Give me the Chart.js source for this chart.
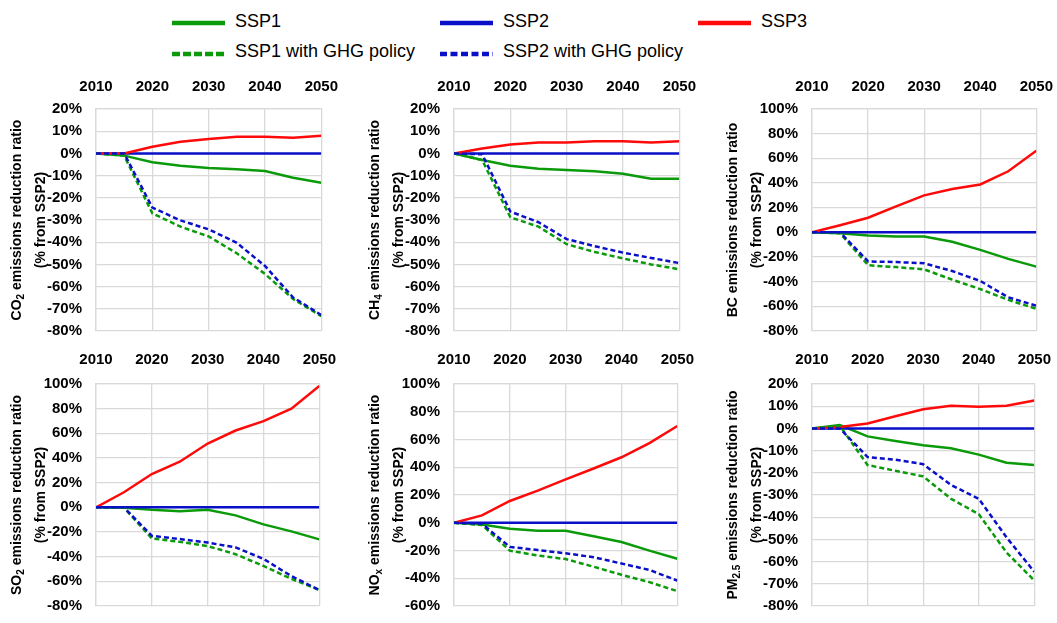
<!DOCTYPE html>
<html><head><meta charset="utf-8">
<script src="https://cdn.jsdelivr.net/npm/chart.js@4.4.1/dist/chart.umd.min.js"></script>
<style>
html,body{margin:0;padding:0;background:#fff;overflow:hidden;width:1057px;height:623px;position:relative;}
canvas{position:absolute;}
.lgt{position:absolute;font-family:"Liberation Sans",Arial,sans-serif;font-size:18px;line-height:18px;color:#000;white-space:nowrap;}
svg.lgs{position:absolute;overflow:visible;}
</style></head><body>
<script>
// ---------------- data ----------------
const years = [2010, 2015, 2020, 2025, 2030, 2035, 2040, 2045, 2050];
const seriesNames = ["SSP1", "SSP2", "SSP3", "SSP1 with GHG policy", "SSP2 with GHG policy"];

const co2_ssp1    = [0, -1, -4, -5.6, -6.6, -7.1, -7.9, -11, -13.2];
const co2_ssp2    = [0, 0, 0, 0, 0, 0, 0, 0, 0];
const co2_ssp3    = [0, 0, 3, 5.2, 6.5, 7.5, 7.5, 7.1, 7.9];
const co2_ssp1ghg = [0, -1, -27, -33, -37.4, -45, -54.3, -65.6, -73.3];
const co2_ssp2ghg = [0, 0, -24.4, -30.2, -34.2, -40.3, -50.7, -64.9, -72.8];

const ch4_ssp1    = [0, -3, -5.6, -6.9, -7.5, -8, -9.2, -11.4, -11.4];
const ch4_ssp2    = [0, 0, 0, 0, 0, 0, 0, 0, 0];
const ch4_ssp3    = [0, 2.2, 4, 4.9, 4.9, 5.5, 5.5, 4.9, 5.5];
const ch4_ssp1ghg = [0, -3, -28.8, -33, -40.9, -44.4, -47.3, -50, -52.2];
const ch4_ssp2ghg = [0, -0.4, -26.2, -31, -38.6, -41.8, -44.7, -47.1, -49.4];

const bc_ssp1    = [0, -0.7, -2.5, -3.3, -3.3, -7.7, -14.2, -21.5, -27.8];
const bc_ssp2    = [0, 0, 0, 0, 0, 0, 0, 0, 0];
const bc_ssp3    = [0, 5.8, 11.8, 21, 30, 35.2, 38.8, 49.5, 66.2];
const bc_ssp1ghg = [0, -0.7, -26.7, -28.2, -30, -38.4, -46, -54.8, -62];
const bc_ssp2ghg = [0, 0, -23.6, -24.1, -25.1, -31.4, -39.4, -52.7, -59.5];

const so2_ssp1    = [0, -0.3, -2, -3.1, -2, -6.5, -13.8, -19.5, -26];
const so2_ssp2    = [0, 0, 0, 0, 0, 0, 0, 0, 0];
const so2_ssp3    = [0, 12.2, 27, 37, 51.7, 62.3, 69.9, 80, 98.4];
const so2_ssp1ghg = [0, -0.3, -25.2, -28, -31.4, -38, -47.5, -58, -67];
const so2_ssp2ghg = [0, 0, -23.1, -25.7, -28.6, -32.5, -41.8, -55.8, -67];

const nox_ssp1    = [0, -1.2, -4.4, -5.8, -5.8, -9.7, -13.9, -20.1, -25.9];
const nox_ssp2    = [0, 0, 0, 0, 0, 0, 0, 0, 0];
const nox_ssp3    = [0, 5.3, 15.7, 23.1, 31.2, 39.1, 47.2, 57.4, 69.7];
const nox_ssp1ghg = [0, -1.6, -20.1, -23.6, -26.2, -31.7, -37.5, -42.8, -49.3];
const nox_ssp2ghg = [0, -0.7, -17.4, -19.7, -22, -24.8, -29.4, -34, -41.7];

const pm_ssp1    = [0, 1.5, -3.6, -5.7, -7.6, -8.9, -11.8, -15.5, -16.5];
const pm_ssp2    = [0, 0, 0, 0, 0, 0, 0, 0, 0];
const pm_ssp3    = [0, 0.6, 2.2, 5.5, 8.6, 10.2, 9.7, 10.2, 12.6];
const pm_ssp1ghg = [0, 1.2, -16.5, -19.1, -21.6, -31.7, -38.6, -55.9, -68.5];
const pm_ssp2ghg = [0, 0, -12.9, -14.1, -16.1, -25.5, -31.7, -49.1, -64.6];

// y-axis ranges [min, max, step]
const co2_range = [-80, 20, 10];
const ch4_range = [-80, 20, 10];
const bc_range  = [-80, 100, 20];
const so2_range = [-80, 100, 20];
const nox_range = [-60, 100, 20];
const pm_range  = [-80, 20, 10];

// axis titles: segments [text, isSubscript]
const co2_title = [["CO", 0], ["2", 1], [" emissions reduction ratio", 0]];
const ch4_title = [["CH", 0], ["4", 1], [" emissions reduction ratio", 0]];
const bc_title  = [["BC emissions reduction ratio", 0]];
const so2_title = [["SO", 0], ["2", 1], [" emissions reduction ratio", 0]];
const nox_title = [["NO", 0], ["x", 1], [" emissions reduction ratio", 0]];
const pm_title  = [["PM", 0], ["2.5", 1], [" emissions reduction ratio", 0]];
const title2 = [["(% from SSP2)", 0]];

// ---------------- style ----------------
const GREEN = '#0a9a0a', BLUE = '#0a10c8', RED = '#ff0a0a';
const GRID = '#d9d9d9';
const FONT = '"Liberation Sans",Arial,sans-serif';

// legend (HTML)
function legendItem(x, y, color, dash, label, textTop) {
  const ns = 'http://www.w3.org/2000/svg';
  const svg = document.createElementNS(ns, 'svg');
  svg.setAttribute('class', 'lgs');
  svg.setAttribute('width', 54); svg.setAttribute('height', 10);
  svg.style.left = x + 'px'; svg.style.top = (y - 5) + 'px';
  const ln = document.createElementNS(ns, 'line');
  ln.setAttribute('x1', 0); ln.setAttribute('x2', 53); ln.setAttribute('y1', 5); ln.setAttribute('y2', 5);
  ln.setAttribute('stroke', color); ln.setAttribute('stroke-width', 4.3);
  if (dash) ln.setAttribute('stroke-dasharray', dash);
  svg.appendChild(ln);
  document.body.appendChild(svg);
  const t = document.createElement('div');
  t.className = 'lgt'; t.textContent = label;
  t.style.left = (x + 63) + 'px'; t.style.top = textTop + 'px';
  document.body.appendChild(t);
}
legendItem(172, 22.7, GREEN, null, seriesNames[0], 12);
legendItem(440, 22.7, BLUE, null, seriesNames[1], 12);
legendItem(698, 22.7, RED, null, seriesNames[2], 12);
legendItem(172, 54, GREEN, '8 3', seriesNames[3], 42);
legendItem(440, 54, BLUE, '7 3.5', seriesNames[4], 42);

const yTitlePlugin = {
  id: 'ytitle',
  afterDraw(chart, args, opts) {
    const {ctx, chartArea} = chart;
    const cy = (chartArea.top + chartArea.bottom) / 2;
    opts.lines.forEach((segs, li) => {
      const cx = chartArea.left + opts.offsets[li];
      ctx.save();
      ctx.translate(cx, cy);
      ctx.rotate(-Math.PI / 2);
      ctx.fillStyle = '#000';
      ctx.textBaseline = 'middle';
      ctx.textAlign = 'left';
      const mainF = 'bold 14px ' + FONT, subF = 'bold 10px ' + FONT;
      let total = 0;
      const ws = segs.map(s => { ctx.font = s[1] ? subF : mainF; const w = ctx.measureText(s[0]).width; total += w; return w; });
      let x = -total / 2;
      segs.forEach((s, i) => { ctx.font = s[1] ? subF : mainF; ctx.fillText(s[0], x, s[1] ? 4 : 0); x += ws[i]; });
      ctx.restore();
    });
  }
};

function pts(arr) { return years.map((x, i) => ({x: x, y: arr[i]})); }

function makeChart(rect, xPad, range, s1, s2, s3, s1g, s2g, title) {
  const padL = 96, padT = 40, padR = 26, padB = 14;
  const c = document.createElement('canvas');
  const w = rect[2] - rect[0] + padL + padR, h = rect[3] - rect[1] + padT + padB;
  c.width = w; c.height = h;
  c.style.left = (rect[0] - padL) + 'px'; c.style.top = (rect[1] - padT) + 'px';
  c.style.width = w + 'px'; c.style.height = h + 'px';
  document.body.appendChild(c);
  const ds = (label, arr, color, dash, order) => ({
    label, data: pts(arr), borderColor: color, backgroundColor: color, borderWidth: 2.5,
    borderDash: dash || [], pointRadius: 0, tension: 0, fill: false, order, borderCapStyle: 'butt'
  });
  new Chart(c, {
    type: 'line',
    data: { datasets: [
      ds(seriesNames[0], s1, GREEN, null, 5),
      ds(seriesNames[1], s2, BLUE, null, 4),
      ds(seriesNames[2], s3, RED, null, 3),
      ds(seriesNames[3], s1g, GREEN, [5, 3], 2),
      ds(seriesNames[4], s2g, BLUE, [5, 3], 1)
    ]},
    options: {
      responsive: false, animation: false, devicePixelRatio: 1,
      layout: { padding: { left: 0, top: 0, right: padR, bottom: padB } },
      plugins: { legend: { display: false }, tooltip: { enabled: false },
        ytitle: { lines: [title, title2], offsets: [-79, -55] } },
      scales: {
        x: { type: 'linear', position: 'top', min: 2010, max: 2050,
          ticks: { stepSize: 10, autoSkip: false, maxRotation: 0, padding: xPad, color: '#000',
            font: { family: FONT, size: 15, weight: 'bold' }, callback: v => String(v) },
          grid: { color: GRID, lineWidth: 1.3, drawTicks: false },
          border: { color: GRID, width: 1.3 },
          afterFit: s => { s.height = padT; } },
        y: { min: range[0], max: range[1],
          ticks: { stepSize: range[2], autoSkip: false, padding: 14, color: '#000',
            font: { family: FONT, size: 15, weight: 'bold' }, callback: v => v + '%' },
          grid: { color: GRID, lineWidth: 1.3, drawTicks: false },
          border: { color: GRID, width: 1.3 },
          afterFit: s => { s.width = padL; } }
      }
    },
    plugins: [yTitlePlugin]
  });
}

makeChart([96, 109, 325, 340], 13, co2_range, co2_ssp1, co2_ssp2, co2_ssp3, co2_ssp1ghg, co2_ssp2ghg, co2_title);
makeChart([454, 109, 683, 340], 13, ch4_range, ch4_ssp1, ch4_ssp2, ch4_ssp3, ch4_ssp1ghg, ch4_ssp2ghg, ch4_title);
makeChart([812, 109, 1040, 340], 13, bc_range, bc_ssp1, bc_ssp2, bc_ssp3, bc_ssp1ghg, bc_ssp2ghg, bc_title);
makeChart([96, 384, 325, 615], 15, so2_range, so2_ssp1, so2_ssp2, so2_ssp3, so2_ssp1ghg, so2_ssp2ghg, so2_title);
makeChart([454, 384, 683, 615], 15, nox_range, nox_ssp1, nox_ssp2, nox_ssp3, nox_ssp1ghg, nox_ssp2ghg, nox_title);
makeChart([812, 384, 1040, 615], 15, pm_range, pm_ssp1, pm_ssp2, pm_ssp3, pm_ssp1ghg, pm_ssp2ghg, pm_title);
</script>
</body></html>
